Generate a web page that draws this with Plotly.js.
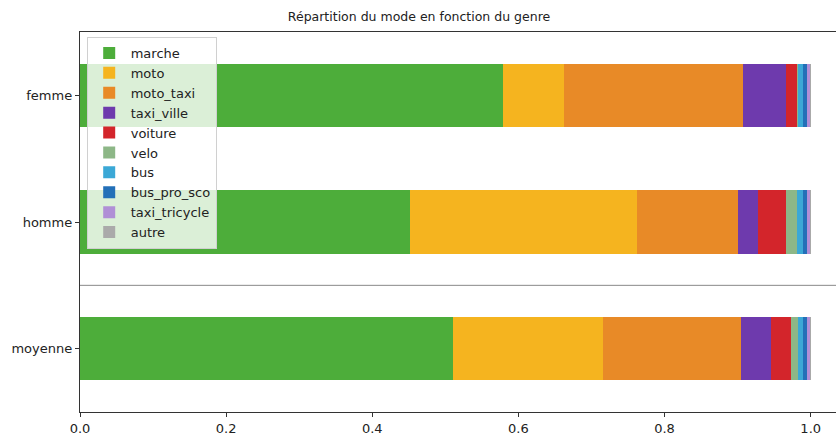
<!DOCTYPE html>
<html>
<head>
<meta charset="utf-8">
<script src="https://cdn.plot.ly/plotly-3.0.1.min.js"></script>
<style>html,body{margin:0;padding:0;background:#fff;}</style>
</head>
<body>
<div id="chart" style="width:836px;height:437px;"></div>
<script>
const categories = ['femme', 'homme', 'moyenne'];
const modes = ['marche', 'moto', 'moto_taxi', 'taxi_ville', 'voiture', 'velo', 'bus', 'bus_pro_sco', 'taxi_tricycle', 'autre'];
const colors = ['#4dad3a', '#f5b41f', '#e88a27', '#6e3aad', '#d3252b', '#8db787', '#3ba8d6', '#2370b8', '#b08fd6', '#aaaaaa'];

const marche        = [0.5785, 0.4516, 0.5100];
const moto          = [0.0839, 0.3103, 0.2053];
const moto_taxi     = [0.2454, 0.1391, 0.1889];
const taxi_ville    = [0.0584, 0.0264, 0.0415];
const voiture       = [0.0146, 0.0388, 0.0269];
const velo          = [0.0020, 0.0155, 0.0096];
const bus           = [0.0071, 0.0082, 0.0078];
const bus_pro_sco   = [0.0046, 0.0055, 0.0045];
const taxi_tricycle = [0.0045, 0.0036, 0.0045];
const autre         = [0.0010, 0.0010, 0.0010];

const series = [marche, moto, moto_taxi, taxi_ville, voiture, velo, bus, bus_pro_sco, taxi_tricycle, autre];

const xTickVals = [0.0, 0.2, 0.4, 0.6, 0.8, 1.0];
const xTickText = ['0.0', '0.2', '0.4', '0.6', '0.8', '1.0'];

const traces = modes.map((m, i) => ({
  type: 'bar',
  orientation: 'h',
  name: m,
  x: series[i],
  y: categories,
  width: 0.5,
  marker: {color: colors[i], line: {width: 0}},
  hoverinfo: 'x+name'
}));

const font = {family: 'DejaVu Sans, sans-serif', size: 13, color: '#222'};

const layout = {
  width: 836,
  height: 437,
  margin: {l: 80, r: 0, t: 32, b: 25, pad: 0},
  paper_bgcolor: '#fff',
  plot_bgcolor: '#fff',
  font: font,
  barmode: 'stack',
  bargap: 0,
  title: {
    text: 'Répartition du mode en fonction du genre',
    font: {family: 'DejaVu Sans, sans-serif', size: 12.5, color: '#222'},
    x: 419 / 836, xanchor: 'center', xref: 'container',
    y: 1 - 17 / 437, yanchor: 'middle', yref: 'container'
  },
  xaxis: {
    range: [0, 756 / 730.7],
    tickvals: xTickVals,
    ticktext: xTickText,
    showgrid: false,
    zeroline: false,
    showline: true,
    linecolor: '#333',
    linewidth: 1.2,
    mirror: true,
    ticks: 'outside',
    ticklen: 4,
    tickcolor: '#333',
    tickfont: font
  },
  yaxis: {
    type: 'category',
    categoryorder: 'array',
    categoryarray: categories,
    range: [2.5, -0.5],
    showgrid: false,
    zeroline: false,
    showline: true,
    linecolor: '#333',
    linewidth: 1.2,
    mirror: false,
    ticks: 'outside',
    ticklen: 4,
    tickcolor: '#333',
    tickfont: font
  },
  showlegend: true,
  legend: {
    x: 6.7 / 756, y: (412 - 37) / 380,
    xanchor: 'left', yanchor: 'top',
    bgcolor: 'rgba(255,255,255,0.8)',
    bordercolor: '#d0d0d0',
    borderwidth: 1,
    traceorder: 'normal',
    font: {family: 'DejaVu Sans, sans-serif', size: 13, color: '#222'},
    itemwidth: 33
  },
  shapes: [{
    type: 'line', xref: 'paper', x0: 0, x1: 1, yref: 'y', y0: 1.5, y1: 1.5,
    line: {color: '#888', width: 1}
  }]
};

Plotly.newPlot('chart', traces, layout, {displayModeBar: false, staticPlot: true});
</script>
</body>
</html>
